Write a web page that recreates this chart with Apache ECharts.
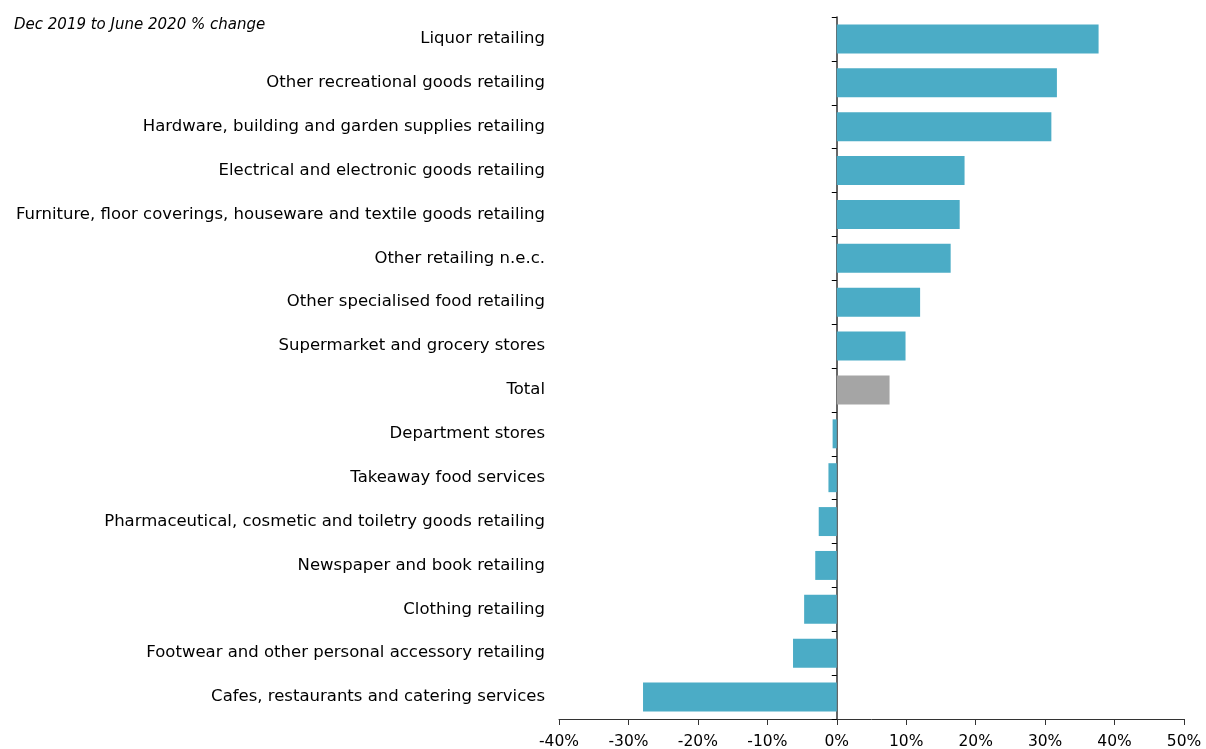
<!DOCTYPE html>
<html>
<head>
<meta charset="utf-8">
<script src="https://cdn.jsdelivr.net/npm/echarts@6/dist/echarts.min.js"></script>
<style>
  html, body { margin: 0; padding: 0; background: #fff; }
  #chart { width: 1206px; height: 749px; }
</style>
</head>
<body>
<div id="chart"></div>
<script>
// Retail turnover by industry, Dec 2019 to June 2020 % change
const categories = [
  'Liquor retailing',
  'Other recreational goods retailing',
  'Hardware, building and garden supplies retailing',
  'Electrical and electronic goods retailing',
  'Furniture, floor coverings, houseware and textile goods retailing',
  'Other retailing n.e.c.',
  'Other specialised food retailing',
  'Supermarket and grocery stores',
  'Total',
  'Department stores',
  'Takeaway food services',
  'Pharmaceutical, cosmetic and toiletry goods retailing',
  'Newspaper and book retailing',
  'Clothing retailing',
  'Footwear and other personal accessory retailing',
  'Cafes, restaurants and catering services'
];
const changePct = [37.7, 31.7, 30.9, 18.4, 17.7, 16.4, 12.0, 9.9, 7.6, -0.6, -1.2, -2.6, -3.1, -4.7, -6.3, -27.9];
const highlight = 'Total';

const BAR = '#4BACC6';
const TOTAL = '#A5A5A5';
const FONT = 'DejaVu Sans';

const chart = echarts.init(document.getElementById('chart'), null, { renderer: 'canvas' });

chart.setOption({
  animation: false,
  backgroundColor: '#ffffff',
  textStyle: { fontFamily: FONT },
  title: {
    text: 'Dec 2019 to June 2020 % change',
    left: 9, top: 13,
    textStyle: { fontFamily: FONT, fontStyle: 'italic', fontWeight: 'normal', fontSize: 15, color: '#000' }
  },
  grid: { left: 559, right: 22, top: 17, bottom: 30, containLabel: false, outerBoundsMode: 'none' },
  xAxis: {
    type: 'value',
    min: -40, max: 50, interval: 10,
    axisLine: { show: true, onZero: false, lineStyle: { color: '#333', width: 1 } },
    axisTick: { show: true, length: 6, lineStyle: { color: '#333' } },
    splitLine: { show: false },
    axisLabel: { formatter: '{value}%', color: '#000', fontSize: 15.5, fontFamily: FONT, margin: 15 }
  },
  yAxis: [
    {
      // category names along the left edge of the plot
      type: 'category', data: categories, inverse: true, position: 'left',
      axisLine: { show: false, onZero: false },
      axisTick: { show: false },
      axisLabel: { color: '#000', fontSize: 16.5, fontFamily: FONT, margin: 14 }
    },
    {
      // vertical baseline at 0% with boundary ticks
      type: 'category', data: categories, inverse: true, position: 'left',
      axisLine: { show: true, onZero: true, lineStyle: { color: '#333', width: 1.5 } },
      axisTick: { show: true, length: 5, alignWithLabel: false, lineStyle: { color: '#000' } },
      axisLabel: { show: false }
    }
  ],
  series: [{
    type: 'bar',
    yAxisIndex: 0,
    barCategoryGap: '34%',
    data: changePct.map((v, i) => ({
      value: v,
      itemStyle: { color: categories[i] === highlight ? TOTAL : BAR }
    })),
    z: 1
  }]
});
</script>
</body>
</html>
